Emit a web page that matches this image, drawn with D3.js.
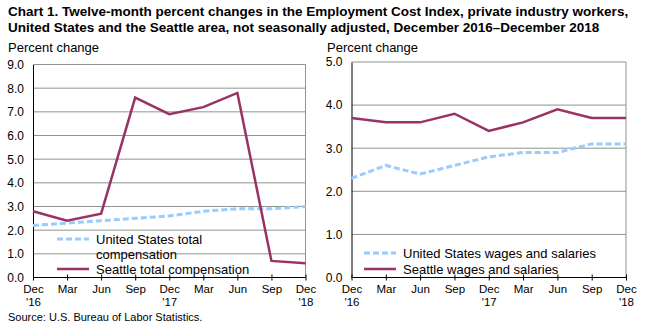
<!DOCTYPE html>
<html>
<head>
<meta charset="utf-8">
<script src="https://cdn.jsdelivr.net/npm/d3@7"></script>
<style>
  body { margin: 0; background: #fff; }
  svg { display: block; font-family: Arial, "Liberation Sans", sans-serif; }
</style>
</head>
<body>
<div id="chart"></div>
<script>
// Quarter labels (two lines where a year is shown)
const quarters = ["Dec|'16", "Mar", "Jun", "Sep", "Dec|'17", "Mar", "Jun", "Sep", "Dec|'18"];

// Left panel: total compensation
const usTotalComp = [2.2, 2.3, 2.4, 2.5, 2.6, 2.8, 2.9, 2.9, 3.0];
const seattleTotalComp = [2.8, 2.4, 2.7, 7.6, 6.9, 7.2, 7.8, 0.7, 0.6];
const leftTicks = [0, 1, 2, 3, 4, 5, 6, 7, 8, 9];

// Right panel: wages and salaries
const usWages = [2.3, 2.6, 2.4, 2.6, 2.8, 2.9, 2.9, 3.1, 3.1];
const seattleWages = [3.7, 3.6, 3.6, 3.8, 3.4, 3.6, 3.9, 3.7, 3.7];
const rightTicks = [0, 1, 2, 3, 4, 5];

const W = 646, H = 328;
const usColor = "#99ccff";
const seaColor = "#993366";
const gridColor = "#8c968c";

const svg = d3.select("#chart").append("svg")
    .attr("width", W)
    .attr("height", H);

// Title
const title = svg.append("text")
    .attr("x", 8)
    .style("font-size", "13.5px")
    .style("font-weight", "bold")
    .style("fill", "#000");
title.append("tspan").attr("x", 8).attr("y", 16)
    .text("Chart 1. Twelve-month percent changes in the Employment Cost  Index, private industry  workers,");
title.append("tspan").attr("x", 8).attr("y", 32)
    .text("United  States and the  Seattle area, not seasonally  adjusted, December 2016\u2013December 2018");

// Source
svg.append("text")
    .attr("x", 8)
    .attr("y", 321)
    .style("font-size", "11px")
    .text("Source: U.S. Bureau of Labor Statistics.");

function drawPanel(opt) {
    const g = svg.append("g");

    const x = d3.scalePoint()
        .domain(d3.range(quarters.length))
        .range([opt.left, opt.right]);

    const y = d3.scaleLinear()
        .domain([0, d3.max(opt.ticks)])
        .range([opt.bottom, opt.top]);

    // Axis title
    g.append("text")
        .attr("x", opt.labelX)
        .attr("y", 52)
        .style("font-size", "13px")
        .text("Percent change");

    // Grid lines
    g.append("g")
        .selectAll("line")
        .data(opt.ticks.filter(d => d > 0))
        .join("line")
        .attr("x1", opt.left)
        .attr("x2", opt.right)
        .attr("y1", d => y(d))
        .attr("y2", d => y(d))
        .attr("stroke", gridColor)
        .attr("stroke-width", 1);

    // Right border
    g.append("line")
        .attr("x1", opt.right).attr("x2", opt.right)
        .attr("y1", opt.top).attr("y2", opt.bottom)
        .attr("stroke", gridColor);

    // Y axis
    const yAxis = g.append("g")
        .attr("transform", `translate(${opt.left},0)`)
        .call(d3.axisLeft(y)
            .tickValues(opt.ticks)
            .tickSize(0)
            .tickPadding(9)
            .tickFormat(d3.format(".1f")));
    yAxis.select(".domain").attr("stroke", "#000");
    yAxis.selectAll("text")
        .style("font-size", "12px")
        .style("font-family", "Arial, 'Liberation Sans', sans-serif")
        .style("fill", "#000");

    // X axis
    const xAxis = g.append("g")
        .attr("transform", `translate(0,${opt.bottom})`)
        .call(d3.axisBottom(x).tickSize(3).tickSizeOuter(0).tickFormat(""));
    xAxis.select(".domain").attr("stroke", "#000").attr("d", `M${opt.left},0H${opt.right}`);
    xAxis.selectAll(".tick line")
        .attr("y1", -3)
        .attr("y2", 3)
        .attr("stroke", "#000");
    xAxis.selectAll(".tick").each(function(d) {
        const parts = quarters[d].split("|");
        const t = d3.select(this);
        parts.forEach((p, i) => {
            t.append("text")
                .attr("x", 0)
                .attr("y", 15 + i * 13)
                .attr("text-anchor", "middle")
                .style("font-size", "11.5px")
                .style("font-family", "Arial, 'Liberation Sans', sans-serif")
                .style("fill", "#000")
                .text(p);
        });
    });

    const line = d3.line()
        .x((d, i) => x(i))
        .y(d => y(d));

    // Series
    g.append("path")
        .datum(opt.us)
        .attr("fill", "none")
        .attr("stroke", usColor)
        .attr("stroke-width", 3)
        .attr("stroke-dasharray", "6,3")
        .attr("d", line);

    g.append("path")
        .datum(opt.sea)
        .attr("fill", "none")
        .attr("stroke", seaColor)
        .attr("stroke-width", 2.5)
        .attr("d", line);

    // Legend
    const lg = g.append("g");
    lg.append("line")
        .attr("x1", opt.legX).attr("x2", opt.legX + 32)
        .attr("y1", opt.legY1).attr("y2", opt.legY1)
        .attr("stroke", usColor)
        .attr("stroke-width", 3)
        .attr("stroke-dasharray", "6,3");
    opt.usLabel.forEach((s, i) => {
        lg.append("text")
            .attr("x", opt.legX + 39)
            .attr("y", opt.legY1 + 5 + i * 15)
            .style("font-size", "13px")
            .text(s);
    });
    lg.append("line")
        .attr("x1", opt.legX).attr("x2", opt.legX + 32)
        .attr("y1", opt.legY2).attr("y2", opt.legY2)
        .attr("stroke", seaColor)
        .attr("stroke-width", 2.5);
    lg.append("text")
        .attr("x", opt.legX + 39)
        .attr("y", opt.legY2 + 5)
        .style("font-size", "13px")
        .text(opt.seaLabel);
}

drawPanel({
    left: 33, right: 305.5, top: 64.5, bottom: 277.5,
    ticks: leftTicks, labelX: 8,
    us: usTotalComp, sea: seattleTotalComp,
    legX: 57, legY1: 239, legY2: 269,
    usLabel: ["United States total", "compensation"],
    seaLabel: "Seattle total compensation"
});

drawPanel({
    left: 351.5, right: 626, top: 62, bottom: 277.5,
    ticks: rightTicks, labelX: 327,
    us: usWages, sea: seattleWages,
    legX: 364, legY1: 253, legY2: 269,
    usLabel: ["United States wages and salaries"],
    seaLabel: "Seattle wages and salaries"
});
</script>
</body>
</html>
